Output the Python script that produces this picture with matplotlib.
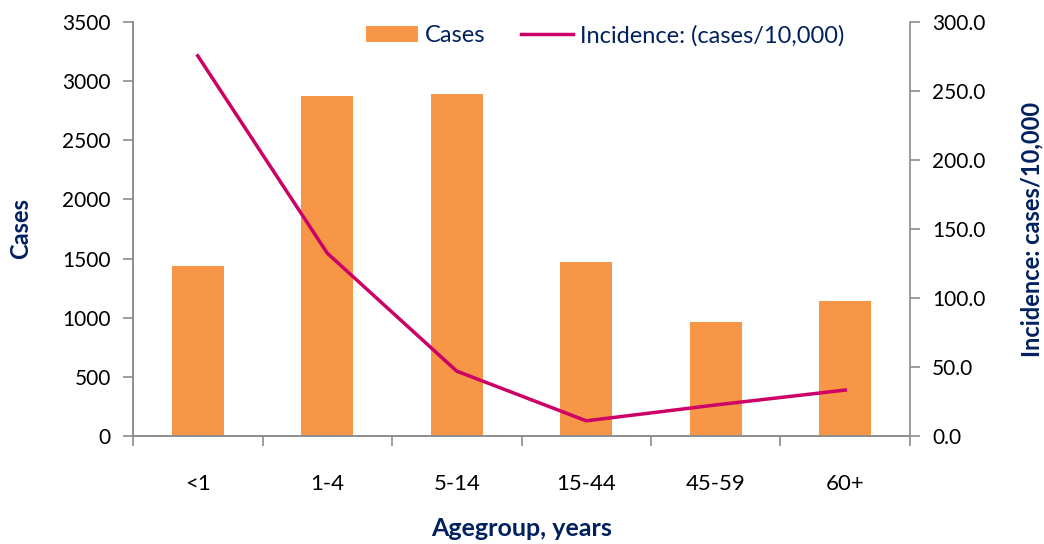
import matplotlib
matplotlib.use("Agg")
import matplotlib.pyplot as plt
import numpy as np

# data
agegroups = ['<1', '1-4', '5-14', '15-44', '45-59', '60+']
cases = [1437, 2875, 2892, 1470, 965, 1145]
incidence = [275.5, 132.5, 47.0, 11.0, 22.5, 33.3]

bar_color = '#F79646'
line_color = '#CC0066'
navy = '#002060'
grey = '#8C8C8C'

plt.rcParams['font.family'] = ['Lato', 'DejaVu Sans']

fig = plt.figure(figsize=(10.44, 5.44), dpi=100)
ax = fig.add_axes([133 / 1044, 0.1985, 777 / 1044, 0.7611])
ax2 = ax.twinx()

x = np.arange(len(agegroups))
ax.bar(x, cases, width=0.4, color=bar_color, label='Cases', zorder=2)
ax2.plot(x, incidence, color=line_color, linewidth=2.5, label='Incidence: (cases/10,000)', zorder=3)

ax.set_xlim(-0.5, len(agegroups) - 0.5)
ax.set_ylim(0, 3500)
ax.set_yticks(range(0, 3501, 500))
ax2.set_ylim(0, 300)
ax2.set_yticks(np.arange(0, 301, 50))
ax2.set_yticklabels(['%.1f' % v for v in np.arange(0, 301, 50)])

# ticks between categories, labels centred
ax.set_xticks(np.arange(-0.5, len(agegroups), 1))
ax.set_xticklabels([])
ax.set_xticks(x, minor=True)
ax.set_xticklabels(agegroups, minor=True)
ax.tick_params(axis='x', which='minor', length=0, pad=27, labelsize=16)
ax.tick_params(axis='x', which='major', length=7, width=1.2, color=grey)
ax.tick_params(axis='y', length=7, width=1.2, color=grey, labelsize=15, pad=9)
ax2.tick_params(axis='y', length=7, width=1.2, color=grey, labelsize=15, pad=9)

for a in (ax, ax2):
    a.spines['top'].set_visible(False)
    for s in ('left', 'right', 'bottom'):
        a.spines[s].set_color(grey)
        a.spines[s].set_linewidth(1.2)
ax.spines['right'].set_visible(False)

ax.set_ylabel('Cases', color=navy, fontweight='bold', fontsize=17, labelpad=22)
ax2.set_ylabel('Incidence: cases/10,000', color=navy, fontweight='bold', fontsize=17, labelpad=25)
ax.set_xlabel('Agegroup, years', color=navy, fontweight='bold', fontsize=18, labelpad=17)

h1, l1 = ax.get_legend_handles_labels()
h2, l2 = ax2.get_legend_handles_labels()
leg = ax.legend(h1 + h2, l1 + l2, loc='upper center', bbox_to_anchor=(0.608, 1.045),
                ncol=2, frameon=False, fontsize=17, handlelength=2.2, columnspacing=1.5,
                handletextpad=0.3)
for t in leg.get_texts():
    t.set_color(navy)

fig.savefig('out.png', dpi=100)
